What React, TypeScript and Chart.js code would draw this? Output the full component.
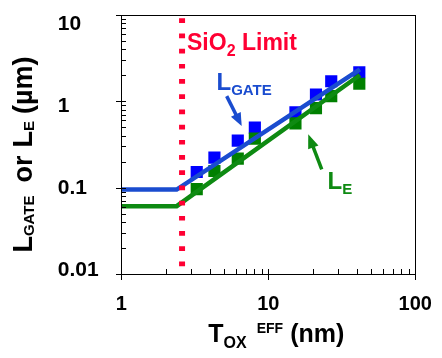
import React, { useEffect, useRef } from 'react';
import { Chart, registerables } from 'chart.js';
Chart.register(...registerables);

// ---- data ----
const tOxEff = [3.26, 4.3, 6.2, 8.1, 15.3, 21.1, 26.8, 41.6];
const lGate = [0.152, 0.223, 0.351, 0.496, 0.746, 1.2, 1.71, 2.17];
const lE = [0.096, 0.156, 0.217, 0.37, 0.556, 0.836, 1.15, 1.6];
const fitX = [1, 2.38, 42];
const lGateFit = [0.095, 0.095, 2.35];
const lEFit = [0.061, 0.061, 2.02];
const sio2LimitX = 2.59;
const sio2LimitY = [10, 0.01];
const xTickLabels = ['1', '10', '100'];
const yTickLabels = ['0.01', '0.1', '1', '10'];

const FONT = '"Liberation Sans", Arial, sans-serif';
const RED = '#FF0033';
const BLUE_PT = '#0000FF';
const BLUE_LN = '#1A4CCF';
const GREEN_PT = '#008000';
const GREEN_LN = '#0E8A12';

const isDecade = (v: number) => Math.abs(Math.log10(v) - Math.round(Math.log10(v))) < 1e-6;
const pickLabel = (v: number, labels: string[]) => {
  if (!isDecade(v)) return '';
  const f = labels.find((l) => Math.abs(parseFloat(l) - v) < v * 1e-6);
  return f ?? '';
};

type Seg = { t: string; size: number; dy: number; gap?: number };
function measureRich(ctx: CanvasRenderingContext2D, segs: Seg[]) {
  let w = 0;
  for (const s of segs) {
    ctx.font = `bold ${s.size}px ${FONT}`;
    w += (s.gap ?? 0) + ctx.measureText(s.t).width;
  }
  return w;
}
function drawRich(ctx: CanvasRenderingContext2D, x: number, y: number, segs: Seg[], color: string) {
  let cx = x;
  ctx.fillStyle = color;
  ctx.textAlign = 'left';
  ctx.textBaseline = 'alphabetic';
  for (const s of segs) {
    ctx.font = `bold ${s.size}px ${FONT}`;
    cx += s.gap ?? 0;
    ctx.fillText(s.t, cx, y + s.dy);
    cx += ctx.measureText(s.t).width;
  }
}
function arrow(ctx: CanvasRenderingContext2D, x1: number, y1: number, x2: number, y2: number, color: string, shaftW: number, headL: number, headW: number) {
  const ang = Math.atan2(y2 - y1, x2 - x1);
  const bx = x2 - headL * Math.cos(ang);
  const by = y2 - headL * Math.sin(ang);
  ctx.strokeStyle = color;
  ctx.lineWidth = shaftW;
  ctx.lineCap = 'butt';
  ctx.beginPath();
  ctx.moveTo(x1, y1);
  ctx.lineTo(bx + 1 * Math.cos(ang), by + 1 * Math.sin(ang));
  ctx.stroke();
  ctx.fillStyle = color;
  ctx.beginPath();
  ctx.moveTo(x2, y2);
  ctx.lineTo(bx + (headW / 2) * Math.sin(ang), by - (headW / 2) * Math.cos(ang));
  ctx.lineTo(bx - (headW / 2) * Math.sin(ang), by + (headW / 2) * Math.cos(ang));
  ctx.closePath();
  ctx.fill();
}

const decor = {
  id: 'decor',
  afterDraw(chart: any) {
    const { ctx, chartArea: a, scales } = chart;
    const xs = scales.x;
    const ys = scales.y;
    const X = (v: number) => xs.getPixelForValue(v);
    const Y = (v: number) => ys.getPixelForValue(v);
    ctx.save();
    // frame
    ctx.strokeStyle = '#000';
    ctx.lineWidth = 1;
    ctx.strokeRect(Math.round(a.left) + 0.5, Math.round(a.top) + 0.5, Math.round(a.right - a.left), Math.round(a.bottom - a.top));
    // ticks
    const ticksFor = (min: number, max: number) => {
      const out: number[] = [];
      for (let e = Math.floor(Math.log10(min)); e <= Math.ceil(Math.log10(max)); e++) {
        for (let m = 1; m <= 9; m++) {
          const v = m * Math.pow(10, e);
          if (v >= min * 0.9999 && v <= max * 1.0001) out.push(v);
        }
      }
      return out;
    };
    ctx.beginPath();
    for (const v of ticksFor(ys.min, ys.max)) {
      const p = Math.round(Y(v)) + 0.5;
      const l = Math.round(a.left);
      ctx.moveTo(isDecade(v) ? l - 5 : l, p);
      ctx.lineTo(l + 5, p);
    }
    for (const v of ticksFor(xs.min, xs.max)) {
      const p = Math.round(X(v)) + 0.5;
      const b = Math.round(a.bottom);
      ctx.moveTo(p, b - 5);
      ctx.lineTo(p, isDecade(v) ? b + 6 : b);
    }
    ctx.stroke();

    // y tick labels (left aligned, drawn with a slight compression toward the centre as in the source)
    ctx.fillStyle = '#000';
    ctx.textAlign = 'left';
    ctx.textBaseline = 'middle';
    ctx.font = `bold 21px ${FONT}`;
    for (const lab of yTickLabels) {
      const p = Y(parseFloat(lab));
      const frac = (p - a.top) / (a.bottom - a.top);
      ctx.fillText(lab, a.left - 63.5, p + 8.5 - 13.5 * frac + 1);
    }

    // annotations
    drawRich(ctx, X(2.8), Y(3.9), [
      { t: 'SiO', size: 23, dy: 0 },
      { t: '2', size: 16, dy: 6 },
      { t: ' Limit', size: 23, dy: 0 },
    ], RED);
    drawRich(ctx, X(4.44), Y(1.34), [
      { t: 'L', size: 24, dy: 0 },
      { t: 'GATE', size: 15, dy: 5 },
    ], BLUE_LN);
    drawRich(ctx, X(25.3), Y(0.0956), [
      { t: 'L', size: 24, dy: 0 },
      { t: 'E', size: 15, dy: 5 },
    ], GREEN_LN);
    arrow(ctx, X(5.21), Y(1.15), X(6.59), Y(0.518), BLUE_LN, 3.5, 13, 11);
    arrow(ctx, X(23.1), Y(0.163), X(18.7), Y(0.415), GREEN_LN, 3.5, 14, 11);

    // x title
    const xt: Seg[] = [
      { t: 'T', size: 25, dy: 0 },
      { t: 'OX', size: 16, dy: 6 },
      { t: 'EFF', size: 14, dy: -9, gap: 10 },
      { t: '(nm)', size: 25, dy: 0, gap: 7 },
    ];
    const xw = measureRich(ctx, xt);
    drawRich(ctx, (a.left + a.right) / 2 + 8 - xw / 2, a.bottom + 68, xt, '#000');

    // y title (rotated)
    const yt: Seg[] = [
      { t: 'L', size: 27, dy: 0 },
      { t: 'GATE', size: 15, dy: 2 },
      { t: 'or', size: 27, dy: 0, gap: 13 },
      { t: 'L', size: 27, dy: 0, gap: 8 },
      { t: 'E', size: 15, dy: 2 },
      { t: '(\u00b5m)', size: 27, dy: 0, gap: 7 },
    ];
    const yw = measureRich(ctx, yt);
    ctx.translate(a.left - 89.5, (a.top + a.bottom) / 2 + 10);
    ctx.rotate(-Math.PI / 2);
    drawRich(ctx, -yw / 2, 0, yt, '#000');
    ctx.restore();
  },
};

export default function App() {
  const ref = useRef<HTMLCanvasElement>(null);
  useEffect(() => {
    const canvas = ref.current!;
    const pts = (xsArr: number[], ysArr: number[]) => xsArr.map((x, i) => ({ x, y: ysArr[i] }));
    const tickFont = (size: number) => ({ family: FONT, size, weight: 'bold' as const });
    const chart = new Chart(canvas, {
      type: 'scatter',
      data: {
        datasets: [
          {
            label: 'SiO2 Limit',
            data: sio2LimitY.map((y) => ({ x: sio2LimitX, y })),
            showLine: true,
            borderColor: RED,
            borderWidth: 6,
            borderDash: [4.7, 10.5],
            borderDashOffset: -3.3,
            borderCapStyle: 'butt',
            pointRadius: 0,
            order: 0,
          },
          {
            label: 'LE fit',
            data: pts(fitX, lEFit),
            showLine: true,
            borderColor: GREEN_LN,
            borderWidth: 4.5,
            pointRadius: 0,
            order: 1,
          },
          {
            label: 'LGATE fit',
            data: pts(fitX, lGateFit),
            showLine: true,
            borderColor: BLUE_LN,
            borderWidth: 4.5,
            pointRadius: 0,
            order: 2,
          },
          {
            label: 'LE',
            data: pts(tOxEff, lE),
            showLine: false,
            pointStyle: 'rect',
            pointRadius: 8.6,
            pointBorderWidth: 0,
            backgroundColor: GREEN_PT,
            borderColor: GREEN_PT,
            order: 3,
          },
          {
            label: 'LGATE',
            data: pts(tOxEff, lGate),
            showLine: false,
            pointStyle: 'rect',
            pointRadius: 8.6,
            pointBorderWidth: 0,
            backgroundColor: BLUE_PT,
            borderColor: BLUE_PT,
            order: 4,
          },
        ] as any,
      },
      options: {
        responsive: false,
        animation: false,
        events: [],
        layout: { padding: { left: 57, right: 26.7, top: 15, bottom: 0 } },
        plugins: { legend: { display: false }, tooltip: { enabled: false } },
        scales: {
          x: {
            type: 'logarithmic',
            min: 1,
            max: 100,
            grid: { display: false, drawTicks: false },
            border: { display: false },
            ticks: {
              autoSkip: false,
              maxRotation: 0,
              padding: 18,
              color: '#000',
              font: tickFont(20),
              callback: (v: any) => pickLabel(Number(v), xTickLabels),
            },
            afterFit: (s: any) => {
              s.height = 84;
              s.paddingLeft = 0;
              s.paddingRight = 0;
            },
          },
          y: {
            type: 'logarithmic',
            min: 0.01,
            max: 10,
            grid: { display: false, drawTicks: false },
            border: { display: false },
            ticks: {
              display: false,
              autoSkip: false,
              callback: (v: any) => pickLabel(Number(v), yTickLabels),
            },
            afterFit: (s: any) => {
              s.width = 64.3;
              s.paddingTop = 0;
              s.paddingBottom = 0;
            },
          },
        } as any,
      },
      plugins: [decor],
    });
    return () => chart.destroy();
  }, []);
  return (
    <div style={{ position: 'fixed', left: 0, top: 0, width: 442, height: 358, background: '#fff' }}>
      <canvas ref={ref} width={442} height={358} style={{ display: 'block', width: 442, height: 358 }} />
    </div>
  );
}
